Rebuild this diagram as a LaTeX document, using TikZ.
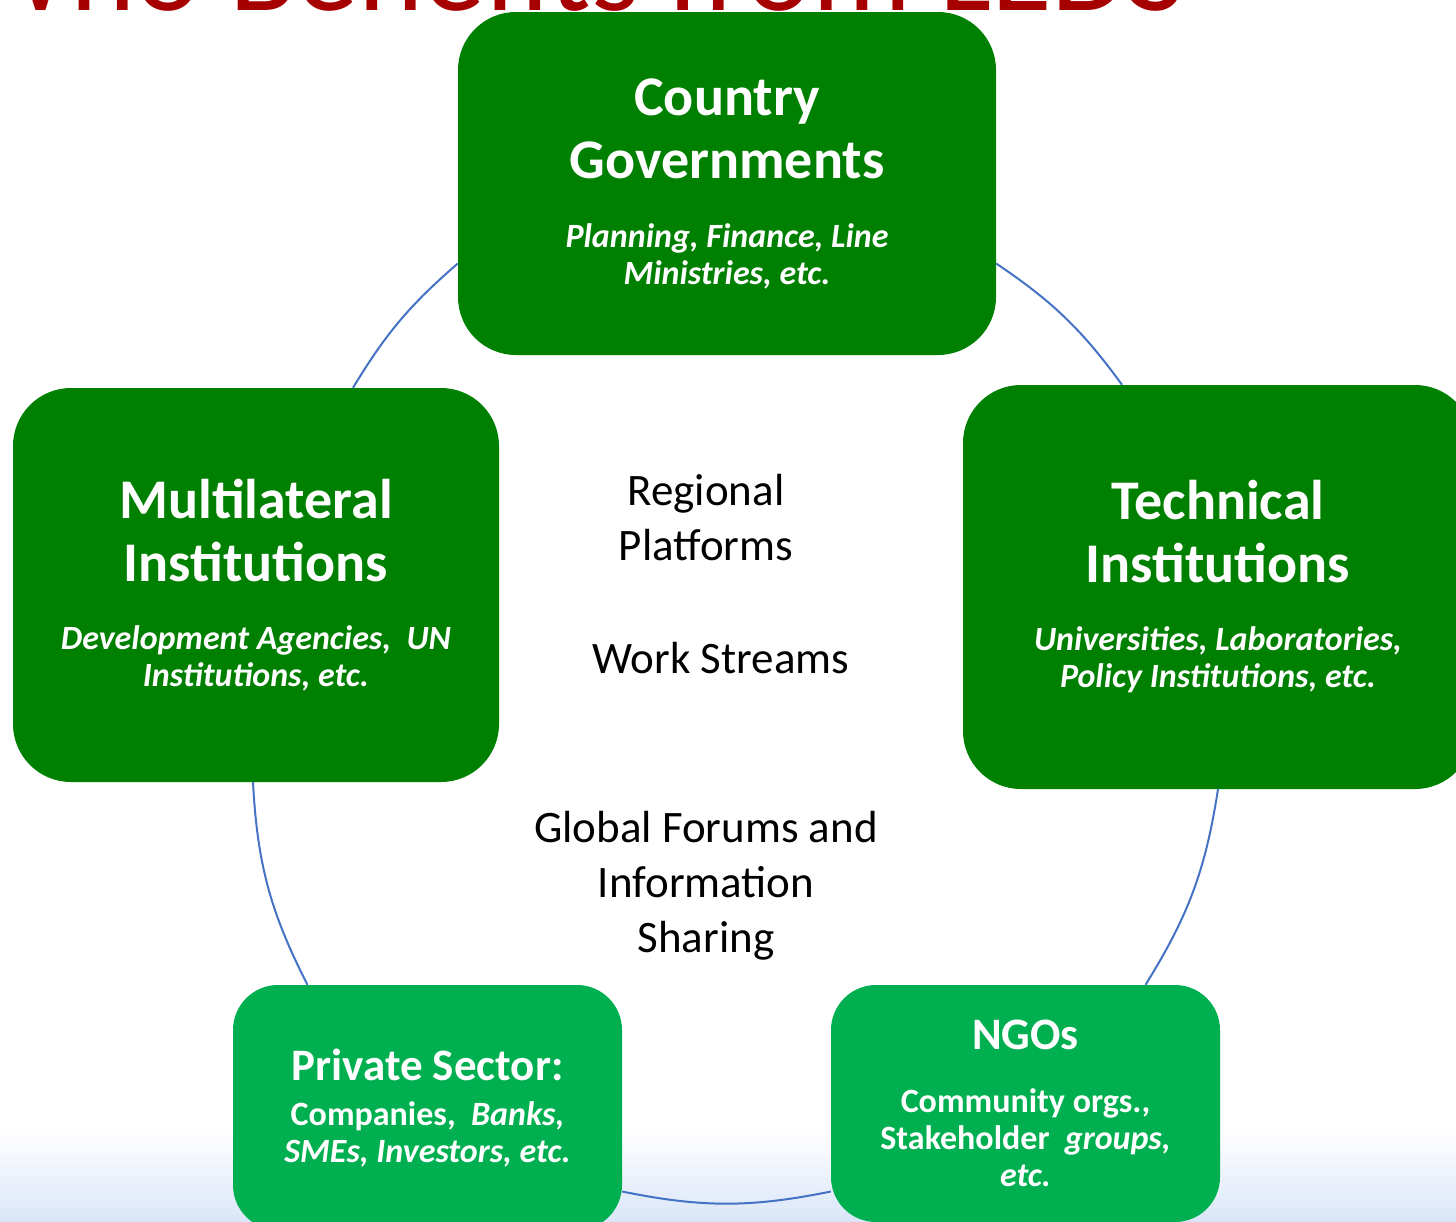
\documentclass[tikz,border=0pt]{standalone}
\usepackage{fontspec}
\setmainfont{Carlito}
\definecolor{leafgreen}{RGB}{0,128,0}
\definecolor{grassgreen}{RGB}{0,176,80}
\definecolor{ringblue}{RGB}{68,114,196}
\definecolor{titlered}{RGB}{166,0,0}
\definecolor{skyblue}{RGB}{218,230,248}
\newcommand{\boxlines}{\centering\spaceskip=0pt\xspaceskip=0pt\relax}
\newcommand{\boxhead}{\fontsize{56}{63}\selectfont\bfseries}
\newcommand{\boxsub}{\fontsize{34}{37}\selectfont\bfseries\itshape}
\newcommand{\smallhead}{\fontsize{45}{50}\selectfont\bfseries}
\newcommand{\smallsub}{\fontsize{34}{37}\selectfont\bfseries}

\begin{document}
\begin{tikzpicture}[x=1pt, y=-1pt,
    bigbox/.style={fill=leafgreen, text=white, rounded corners=58pt, inner sep=0pt, text width=470pt},
    smallbox/.style={fill=grassgreen, text=white, rounded corners=45pt, inner sep=0pt, text width=370pt},
    ring/.style={draw=ringblue, line width=2pt, bend left=#1},
    midtext/.style={align=center, font=\fontsize{45}{55}\selectfont}]
    \useasboundingbox (0,0) rectangle (1456,1221);
    % Background
    \fill[top color=white, bottom color=skyblue] (0,1130) rectangle (1456,1221);
    % Title
    \node[anchor=base west, inner sep=0pt, text=titlered, font=\fontsize{124}{140}\selectfont] (title) at (-40,10) {Who Benefits from LEDS};

    % Boxes
    \node[bigbox, minimum width=538pt, minimum height=343pt] (gov) at (727,183.5)
        {\boxlines\boxhead Country\\Governments\\[32pt]\boxsub Planning, Finance, Line\\Ministries, etc.\par};
    \node[bigbox, minimum width=486pt, minimum height=394pt] (multi) at (256,585)
        {\boxlines\boxhead Multilateral\\Institutions\\[31pt]\boxsub Development Agencies,~ UN\\Institutions, etc.\par};
    \node[bigbox, minimum width=510pt, minimum height=404pt] (tech) at (1218,587)
        {\boxlines\boxhead Technical\\Institutions\\[31pt]\boxsub Universities, Laboratories,\\Policy Institutions, etc.\par};
    \node[smallbox, minimum width=389pt, minimum height=245pt] (private) at (427.5,1107.5)
        {\boxlines\smallhead Private Sector:\\[8pt]\smallsub Companies,~ \textit{Banks,}\\\itshape SMEs, Investors, etc.\par};
    \node[smallbox, minimum width=389pt, minimum height=237pt] (ngo) at (1025.5,1103.5)
        {\boxlines\smallhead NGOs\\[26pt]\smallsub Community orgs.,\\Stakeholder~ \textit{groups,}\\\itshape etc.\par};

    % Middle text
    \node[midtext] (regional) at (706,518) {Regional\\Platforms};
    \node[midtext] (streams) at (721,658) {Work Streams};
    \node[midtext] (forums) at (706,886) {Global Forums and\\Information\\Sharing};

    % Cycle
    \draw[ring=10] ([yshift=-80pt]gov.east) to ([xshift=-96pt]tech.north);
    \draw[ring=11.5] (tech.south) to ([xshift=120pt]ngo.north);
    \draw[ring=11.5] ([yshift=-88pt]ngo.west) to ([yshift=-84pt]private.east);
    \draw[ring=12] ([xshift=-120pt]private.north) to ([xshift=-3pt]multi.south);
    \draw[ring=9] ([xshift=97pt]multi.north) to ([yshift=-80pt]gov.west);
\end{tikzpicture}
\end{document}
